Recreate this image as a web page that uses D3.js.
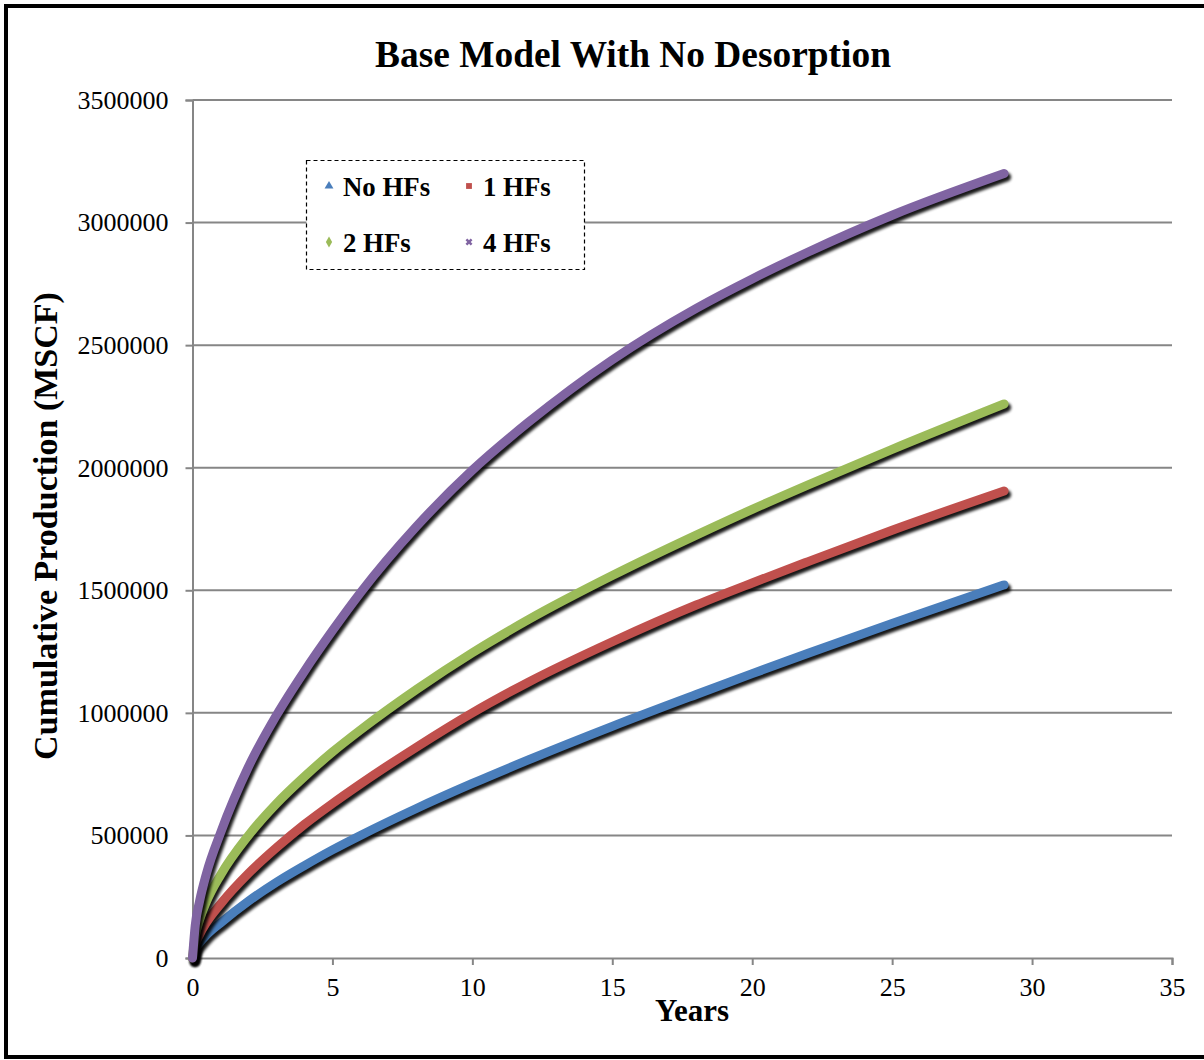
<!DOCTYPE html>
<html>
<head>
<meta charset="utf-8">
<script src="https://cdn.jsdelivr.net/npm/d3@7"></script>
<style>
  html, body { margin: 0; padding: 0; background: #fff; }
  svg { display: block; font-family: "Liberation Serif", "Times New Roman", serif; }
</style>
</head>
<body>
<svg id="chart" width="1204" height="1060"></svg>
<script>
// Simulation time (years) and cumulative gas production (MSCF) per case
const years = [0, 0.1, 0.25, 0.5, 1, 2, 3, 4, 5, 6, 8, 10, 12, 15, 18, 20, 22, 25, 29];
const noHFs   = [0, 36000, 62000, 94000, 143000, 232000, 309000, 377000, 441000, 500000, 610000, 712000, 808000, 945000, 1075000, 1160000, 1243000, 1365000, 1522000];
const oneHF   = [0, 55000, 95000, 145000, 220000, 345000, 450000, 545000, 630000, 710000, 860000, 1000000, 1125000, 1290000, 1440000, 1530000, 1617000, 1745000, 1905000];
const twoHFs  = [0, 90000, 155000, 230000, 338000, 500000, 630000, 740000, 840000, 930000, 1095000, 1245000, 1380000, 1560000, 1725000, 1830000, 1930000, 2075000, 2260000];
const fourHFs = [0, 135000, 230000, 345000, 510000, 780000, 990000, 1170000, 1335000, 1490000, 1760000, 1990000, 2185000, 2440000, 2650000, 2770000, 2880000, 3030000, 3200000];

const seriesNames = ["No HFs", "1 HFs", "2 HFs", "4 HFs"];
const seriesValues = [noHFs, oneHF, twoHFs, fourHFs];
const seriesColors = ["#4a7ebb", "#c0504d", "#9bbb59", "#8064a2"];
const seriesSymbols = [d3.symbolTriangle, d3.symbolSquare, d3.symbolDiamond, d3.symbolCross];

const xTicks = [0, 5, 10, 15, 20, 25, 30, 35];
const yTicks = [0, 500000, 1000000, 1500000, 2000000, 2500000, 3000000, 3500000];

const svg = d3.select("#chart");
const axisGrey = "#868686";

// Outer frame
svg.append("rect")
  .attr("x", 6).attr("y", 6).attr("width", 1212).attr("height", 1051)
  .attr("fill", "#fff").attr("stroke", "#000").attr("stroke-width", 4);

const x = d3.scaleLinear().domain([0, 35]).range([192.5, 1172]);
const y = d3.scaleLinear().domain([0, 3500000]).range([958, 100]);

// Shadow filter for the series lines
const defs = svg.append("defs");
const f = defs.append("filter").attr("id", "shadow")
  .attr("x", "-10%").attr("y", "-10%").attr("width", "120%").attr("height", "120%");
f.append("feGaussianBlur").attr("stdDeviation", 1.7);

// Horizontal gridlines
svg.append("g")
  .selectAll("line")
  .data(yTicks.filter(d => d > 0))
  .join("line")
  .attr("x1", x(0)).attr("x2", x(35))
  .attr("y1", d => y(d)).attr("y2", d => y(d))
  .attr("stroke", axisGrey).attr("stroke-width", 2);

// Y axis
const yAxis = svg.append("g")
  .attr("transform", `translate(${x(0)},0)`)
  .call(d3.axisLeft(y).tickValues(yTicks).tickFormat(d3.format("d")).tickSize(7).tickPadding(17));
yAxis.select(".domain").attr("stroke", axisGrey).attr("stroke-width", 2);
yAxis.selectAll(".tick line").attr("stroke", axisGrey).attr("stroke-width", 2);
yAxis.selectAll("text").attr("font-size", 26).attr("fill", "#000")
  .attr("font-family", "Liberation Serif, Times New Roman, serif");

// X axis
const xAxis = svg.append("g")
  .attr("transform", `translate(0,${y(0)})`)
  .call(d3.axisBottom(x).tickValues(xTicks).tickFormat(d3.format("d")).tickSize(7).tickPadding(13));
xAxis.select(".domain").attr("stroke", axisGrey).attr("stroke-width", 2);
xAxis.selectAll(".tick line").attr("stroke", axisGrey).attr("stroke-width", 2);
xAxis.selectAll("text").attr("font-size", 26).attr("fill", "#000")
  .attr("font-family", "Liberation Serif, Times New Roman, serif");

// Series lines with drop shadow
const line = d3.line()
  .x((d, i) => x(years[i]))
  .y(d => y(d))
  .curve(d3.curveMonotoneX);

const plot = svg.append("g");
seriesValues.forEach((vals, k) => {
  plot.append("path")
    .attr("d", line(vals))
    .attr("fill", "none")
    .attr("stroke", "#000")
    .attr("stroke-width", 9)
    .attr("stroke-linecap", "round")
    .attr("stroke-linejoin", "round")
    .attr("opacity", 0.9)
    .attr("transform", "translate(2.5,3.5)")
    .attr("filter", "url(#shadow)");
  plot.append("path")
    .attr("d", line(vals))
    .attr("fill", "none")
    .attr("stroke", seriesColors[k])
    .attr("stroke-width", 9)
    .attr("stroke-linecap", "round")
    .attr("stroke-linejoin", "round");
});

// Title
svg.append("text")
  .attr("x", 633).attr("y", 67)
  .attr("text-anchor", "middle")
  .attr("font-size", 37.4).attr("font-weight", "bold")
  .text("Base Model With No Desorption");

// Axis titles
svg.append("text")
  .attr("x", 692).attr("y", 1021)
  .attr("text-anchor", "middle")
  .attr("font-size", 31).attr("font-weight", "bold")
  .text("Years");

svg.append("text")
  .attr("transform", "translate(57,526) rotate(-90)")
  .attr("text-anchor", "middle")
  .attr("font-size", 34).attr("font-weight", "bold")
  .text("Cumulative Production (MSCF)");

// Legend
const legend = svg.append("g");
legend.append("rect")
  .attr("x", 306.5).attr("y", 160.5).attr("width", 278).attr("height", 109)
  .attr("fill", "#fff").attr("stroke", "#000").attr("stroke-width", 1.2)
  .attr("stroke-dasharray", "4,3");

const legendPos = [
  { mx: 329, tx: 343, y: 187 },
  { mx: 469, tx: 483, y: 187 },
  { mx: 329, tx: 343, y: 243 },
  { mx: 469, tx: 483, y: 243 }
];
seriesNames.forEach((name, k) => {
  const p = legendPos[k];
  const sym = d3.symbol().type(seriesSymbols[k]).size(k === 3 ? 30 : 34);
  legend.append("path")
    .attr("d", sym())
    .attr("transform", `translate(${p.mx},${p.y - 1})` + (k === 3 ? " rotate(45)" : ""))
    .attr("fill", seriesColors[k]);
  legend.append("text")
    .attr("x", p.tx).attr("y", p.y + 9)
    .attr("font-size", 26.8).attr("font-weight", "bold")
    .text(name);
});
</script>
</body>
</html>
